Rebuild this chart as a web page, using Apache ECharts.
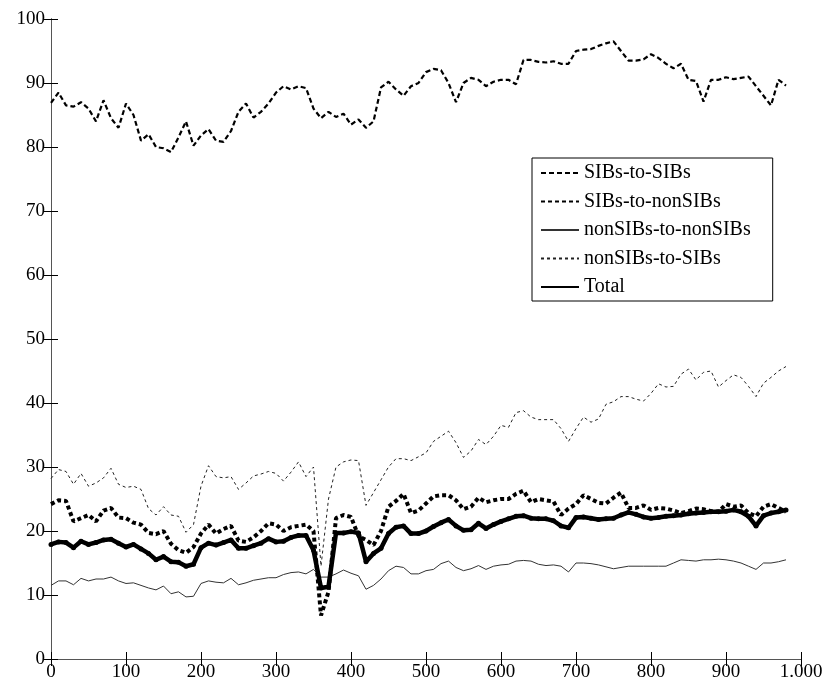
<!DOCTYPE html>
<html>
<head>
<meta charset="utf-8">
<script src="https://cdn.jsdelivr.net/npm/echarts@6/dist/echarts.min.js"></script>
<style>
html,body{margin:0;padding:0;background:#fff;}
#chart{width:826px;height:683px;}
</style>
</head>
<body>
<div id="chart"></div>
<script>
// x positions (observation index)
const xValues = [0,10,20,30,40,50,60,70,80,90,100,110,120,130,140,150,160,170,180,190,200,210,220,230,240,250,260,270,280,290,300,310,320,330,340,350,360,370,380,390,400,410,420,430,440,450,460,470,480,490,500,510,520,530,540,550,560,570,580,590,600,610,620,630,640,650,660,670,680,690,700,710,720,730,740,750,760,770,780,790,800,810,820,830,840,850,860,870,880,890,900,910,920,930,940,950,960,970,980];

const seriesNames = ['SIBs-to-SIBs','SIBs-to-nonSIBs','nonSIBs-to-nonSIBs','nonSIBs-to-SIBs','Total'];

const sibsToSibs = [86.9,88.5,86.5,86.3,87,86,84,87.3,84.5,83,86.8,85,81,82,80,79.8,79.2,81.5,84,80.2,81.8,82.8,81,80.8,82.5,85.5,86.8,84.6,85.5,86.8,88.5,89.5,89,89.5,89.2,86,84.5,85.5,84.7,85.2,83.5,84.3,83,84,89.3,90.2,89,88,89.5,90,91.7,92.2,92,90,87,90,90.8,90.5,89.5,90.2,90.5,90.5,89.8,93.6,93.6,93.3,93.2,93.4,93,93,95,95.2,95.3,95.8,96.2,96.5,95,93.5,93.5,93.7,94.5,93.9,93,92.3,93,90.5,90.3,87.1,90.5,90.5,90.9,90.6,90.8,91,89.5,88,86.5,90.5,89.6];

const sibsToNonSibs = [24.2,24.8,24.7,21.5,22,22.5,21.5,23.2,23.6,22.1,22,21.3,21,19.7,19.5,20,18,17,16.6,17.5,19.6,21,19.6,20.3,20.8,18.5,18.3,19,20,21.2,21,20,20.6,20.8,21,20,6.8,10.5,22,22.5,22.2,19.2,18.6,17.8,20,23.8,24.7,25.8,22.8,23.2,24.3,25.4,25.6,25.6,24.8,23.4,23.8,25.2,24.5,24.8,25,25,25.8,26.3,24.5,25,24.8,24.6,22.5,23.5,24.2,25.6,25,24.4,24.3,25.2,26,23.6,23.6,24,23.3,23.6,23.5,23.2,22.8,23.1,23.5,23.4,23.1,23,24.2,23.8,24,22.8,22.3,23.8,24.2,23.6,23];

const nonSibsToNonSibs = [11.5,12.2,12.2,11.6,12.6,12.2,12.5,12.5,12.8,12.2,11.8,11.9,11.5,11.1,10.8,11.4,10.2,10.5,9.7,9.8,11.8,12.2,12,11.9,12.6,11.6,11.9,12.3,12.5,12.7,12.7,13.2,13.5,13.6,13.3,14,12.8,12.8,13.3,13.9,13.4,13,10.9,11.5,12.5,13.8,14.5,14.3,13.3,13.3,13.8,14,14.9,15.3,14.3,13.8,14.1,14.6,14,14.5,14.7,14.8,15.3,15.4,15.3,14.8,14.6,14.7,14.5,13.6,15,15,14.9,14.7,14.4,14.1,14.3,14.5,14.5,14.5,14.5,14.5,14.5,15,15.5,15.4,15.3,15.5,15.5,15.6,15.5,15.3,15,14.5,14,15,15,15.2,15.5];

const nonSibsToSibs = [28.2,29.6,29.3,27.3,29,27,27.5,28.3,29.8,27.3,26.8,27,26.5,23.5,22.5,23.8,22.5,22.3,19.8,21,27,30.2,28.5,28.3,28.5,26.5,27.5,28.6,28.9,29.3,29,27.8,29.2,30.8,28.5,30,14.5,25,30,30.8,31.1,31,24,26,28,30,31.3,31.3,31,31.6,32.2,34,34.8,35.6,33.8,31.5,32.5,34.3,33.5,34.8,36.5,36.2,38.5,38.8,37.8,37.4,37.4,37.4,36,34,36,37.8,37,37.5,39.8,40.2,41,41,40.6,40.3,41.5,43,42.5,42.6,44.5,45.3,43.6,44.8,45,42.5,43.5,44.4,44,42.6,41,43.1,44,45,45.7];

const total = [17.9,18.3,18.2,17.4,18.4,17.9,18.2,18.6,18.7,18.1,17.5,17.9,17.2,16.5,15.5,16,15.2,15.1,14.5,14.8,17.4,18.1,17.8,18.2,18.6,17.3,17.3,17.7,18.1,18.8,18.3,18.4,19,19.3,19.3,17,11.1,11.3,19.7,19.7,19.9,19.7,15.2,16.5,17.3,19.6,20.6,20.8,19.6,19.6,20,20.7,21.3,21.8,20.8,20.1,20.2,21.2,20.4,21,21.5,21.9,22.3,22.4,22,21.9,21.9,21.6,20.8,20.5,22.1,22.2,22,21.8,21.9,22,22.5,22.9,22.6,22.2,22,22.1,22.3,22.4,22.5,22.7,22.8,22.9,23,23,23.1,23.3,23,22.3,20.8,22.4,22.8,23,23.3];

const xTickLabels = {0:'0',100:'100',200:'200',300:'300',400:'400',500:'500',600:'600',700:'700',800:'800',900:'900',1000:'1.000'};

function pairs(arr){ return arr.map((v,i)=>[xValues[i], v]); }

const FONT = 'Liberation Serif';
const chart = echarts.init(document.getElementById('chart'));

const axisLineStyle = {show:true, lineStyle:{color:'#000', width:1}};
const tick = {show:true, inside:true, length:7, lineStyle:{color:'#000', width:1}};
const frameLine = {show:true, lineStyle:{color:'#555', width:1}};

chart.setOption({
  animation:false,
  backgroundColor:'#fff',
  grid:{left:51, right:25, top:19, bottom:24, containLabel:false},
  legend:{
    orient:'vertical', left:532, top:158,
    padding:[5,22,4,8],
    itemWidth:38, itemHeight:14, itemGap:8.5, itemTextGap:4,
    borderColor:'#000', borderWidth:1, backgroundColor:'#fff', borderRadius:0,
    textStyle:{fontFamily:FONT, fontSize:20, color:'#000'},
    itemStyle:{opacity:0},
    data:seriesNames
  },
  xAxis:[
    {type:'value', min:0, max:1000, interval:100, position:'bottom',
     axisLine:axisLineStyle, axisTick:tick, splitLine:{show:false},
     axisLabel:{margin:4, fontFamily:FONT, fontSize:19, color:'#000',
       formatter:(v)=>xTickLabels[v] !== undefined ? xTickLabels[v] : ''}},
    {type:'value', min:0, max:1000, interval:100, position:'top',
     axisLine:frameLine, axisTick:tick, splitLine:{show:false}, axisLabel:{show:false}}
  ],
  yAxis:[
    {type:'value', min:0, max:100, interval:10, position:'left',
     axisLine:axisLineStyle, axisTick:tick, splitLine:{show:false},
     axisLabel:{margin:6, fontFamily:FONT, fontSize:19, color:'#000'}},
    {type:'value', min:0, max:100, interval:10, position:'right',
     axisLine:frameLine, axisTick:tick, splitLine:{show:false}, axisLabel:{show:false}}
  ],
  series:[
    {name:seriesNames[0], type:'line', data:pairs(sibsToSibs), symbol:'none',
     itemStyle:{color:'#000'}, lineStyle:{color:'#000', width:2.2, type:[5,3]}},
    {name:seriesNames[1], type:'line', data:pairs(sibsToNonSibs), symbol:'none',
     itemStyle:{color:'#000'}, lineStyle:{color:'#000', width:4, type:[4,3]}},
    {name:seriesNames[2], type:'line', data:pairs(nonSibsToNonSibs), symbol:'none',
     itemStyle:{color:'#333'}, lineStyle:{color:'#333', width:1}},
    {name:seriesNames[3], type:'line', data:pairs(nonSibsToSibs), symbol:'none',
     itemStyle:{color:'#222'}, lineStyle:{color:'#222', width:1, type:[3,3]}},
    {name:seriesNames[4], type:'line', data:pairs(total), symbol:'circle', symbolSize:5, showSymbol:true,
     itemStyle:{color:'#000'}, lineStyle:{color:'#000', width:4.5}}
  ]
});
</script>
</body>
</html>
